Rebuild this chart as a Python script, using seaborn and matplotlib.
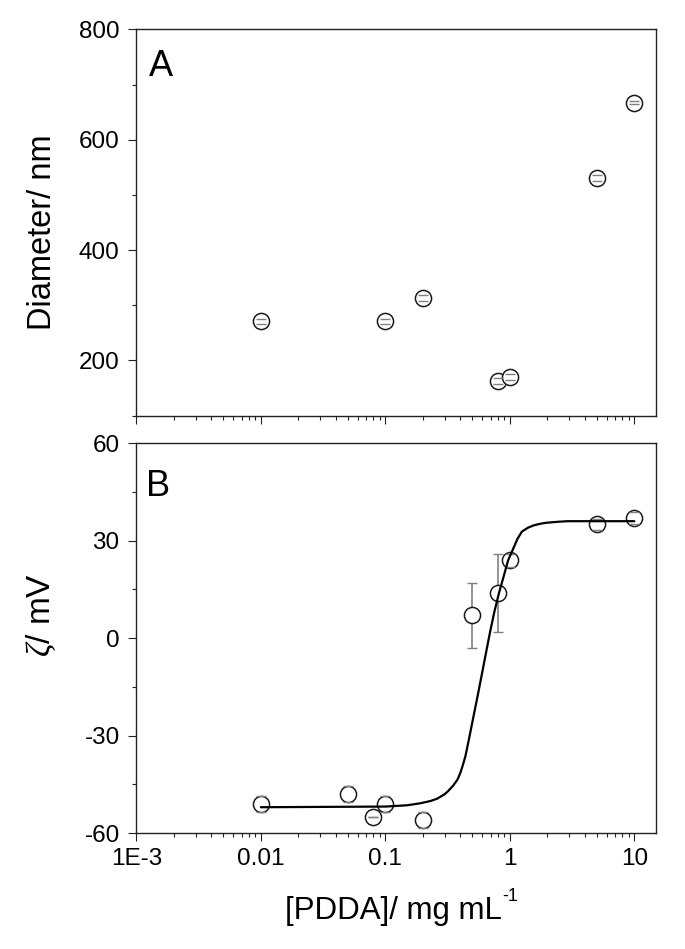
import matplotlib
matplotlib.use("Agg")
import pandas as pd
import matplotlib.pyplot as plt
import seaborn as sns
from matplotlib.ticker import FixedLocator, LogLocator, MultipleLocator, NullFormatter

# panel A: particle diameter vs PDDA concentration
conc_a = [0.01, 0.1, 0.2, 0.8, 1.0, 5.0, 10.0]
diameter = [271, 271, 313, 163, 170, 531, 667]
diameter_err = [5, 5, 6, 6, 6, 6, 3]

# panel B: zeta potential vs PDDA concentration
conc_b = [0.01, 0.05, 0.08, 0.1, 0.2, 0.5, 0.8, 1.0, 5.0, 10.0]
zeta = [-51, -48, -55, -51, -56, 7, 14, 24, 35, 37]
zeta_err = [2.5, 2.5, 0, 2.5, 2.5, 10, 12, 2, 1.8, 1.8]

# fitted sigmoid, points
fit_conc = [0.01, 0.1, 0.15, 0.19, 0.23, 0.26, 0.3, 0.32, 0.35, 0.38, 0.4, 0.42,
            0.44, 0.47, 0.51, 0.55, 0.59, 0.64, 0.69, 0.75, 0.82, 0.9, 0.97, 1.05,
            1.15, 1.25, 1.4, 1.55, 1.75, 1.95, 2.4, 2.9, 10]
fit_zeta = [-52, -51.8, -51.4, -50.8, -50.1, -49.4, -48, -47, -45.4, -43.5, -41.5, -39,
            -36.3, -31, -24.2, -18, -12, -5, 1.4, 8, 14, 19.5, 24, 27,
            30.5, 32.8, 34, 34.7, 35.2, 35.5, 35.8, 36, 36]

xticks = [0.001, 0.01, 0.1, 1, 10]
xticklabels = ["1E-3", "0.01", "0.1", "1", "10"]

sns.set_theme(style="ticks")
plt.rcParams["font.family"] = ["Liberation Sans", "DejaVu Sans"]
plt.rcParams["axes.unicode_minus"] = False
plt.rcParams["mathtext.fontset"] = "custom"
plt.rcParams["mathtext.it"] = "Liberation Serif:italic"
plt.rcParams["mathtext.rm"] = "Liberation Sans"

df_a = pd.DataFrame({"conc": conc_a, "d": diameter, "err": diameter_err})
df_b = pd.DataFrame({"conc": conc_b, "z": zeta, "err": zeta_err})
df_fit = pd.DataFrame({"conc": fit_conc, "z": fit_zeta})

fig = plt.figure(figsize=(6.85, 9.49), dpi=100)
ax_a = fig.add_axes([0.199, 0.562, 0.759, 0.407])
ax_b = fig.add_axes([0.199, 0.122, 0.759, 0.411])


def draw_points(ax, x, y, err):
    bars = ax.errorbar(x, y, yerr=err, fmt="none", ecolor="#808080",
                       elinewidth=1.2, capsize=3.5, capthick=1.0)
    bars.lines[2][0].set_zorder(1.5)
    for cap in bars.lines[1]:
        cap.set_zorder(3)
    sns.scatterplot(x=x, y=y, ax=ax, marker="o", s=135, facecolor="white",
                    edgecolor="#1a1a1a", linewidth=1.1, zorder=2)


draw_points(ax_a, df_a["conc"], df_a["d"], df_a["err"])
draw_points(ax_b, df_b["conc"], df_b["z"], df_b["err"])
sns.lineplot(data=df_fit, x="conc", y="z", ax=ax_b, color="black",
             linewidth=1.6, zorder=4)

for ax in (ax_a, ax_b):
    ax.set_xscale("log")
    ax.set_xlim(0.001, 15)
    ax.xaxis.set_major_locator(FixedLocator(xticks))
    ax.xaxis.set_minor_locator(LogLocator(base=10, subs=range(2, 10)))
    ax.xaxis.set_minor_formatter(NullFormatter())
    ax.tick_params(which="major", direction="out", length=6, width=0.8,
                   color="#222222", labelcolor="black", labelsize=17.5)
    ax.tick_params(axis="y", which="major", pad=6)
    ax.tick_params(axis="x", which="major", pad=5)
    ax.tick_params(which="minor", direction="out", length=3, width=0.8,
                   color="#222222")
    for sp in ax.spines.values():
        sp.set_visible(True)
        sp.set_linewidth(1.0)
        sp.set_color("#222222")
    ax.set_xlabel("")

ax_a.set_ylim(100, 800)
ax_a.yaxis.set_major_locator(FixedLocator([200, 400, 600, 800]))
ax_a.yaxis.set_minor_locator(MultipleLocator(100))
ax_a.set_xticklabels([])
ax_a.set_ylabel("Diameter/ nm", fontsize=23.5, color="black")
ax_a.yaxis.set_label_coords(-0.15, 0.474)
ax_a.text(0.025, 0.95, "A", transform=ax_a.transAxes, fontsize=26,
          ha="left", va="top", color="black")

ax_b.set_ylim(-60, 60)
ax_b.yaxis.set_major_locator(FixedLocator([-60, -30, 0, 30, 60]))
ax_b.yaxis.set_minor_locator(MultipleLocator(15))
ax_b.set_xticklabels(xticklabels)
ax_b.set_ylabel(r"$\zeta$/ mV", fontsize=24, color="black")
ax_b.yaxis.set_label_coords(-0.15, 0.56)
xlab = ax_b.set_xlabel("[PDDA]/ mg mL", fontsize=22.5, color="black")
ax_b.xaxis.set_label_coords(0.495, -0.16)
ax_b.annotate("-1", xy=(1.0, 0.98), xycoords=xlab, fontsize=13,
              ha="left", va="center", color="black")
ax_b.text(0.018, 0.935, "B", transform=ax_b.transAxes, fontsize=26,
          ha="left", va="top", color="black")

fig.savefig("out.png", dpi=100)
